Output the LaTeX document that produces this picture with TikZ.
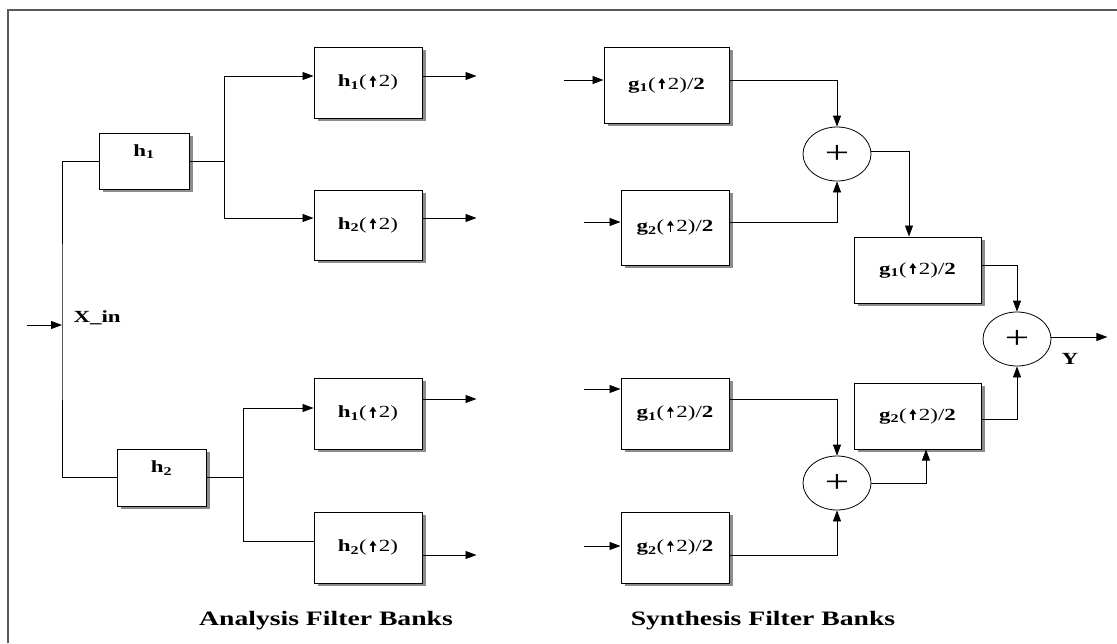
\documentclass[tikz,border=0pt]{standalone}
\usepackage{fontspec}
\setmainfont{Liberation Serif}[FakeStretch=1.35]
\usetikzlibrary{arrows.meta, shadows, shapes.geometric}
\newcommand{\uparr}{\,\tikz[baseline=0pt]\draw[line width=1.6pt, -{Triangle[length=5pt,width=6.5pt]}] (0pt,0pt) -- (0pt,11pt);\,}
\newcommand{\hlab}[1]{\textbf{h}\textsubscript{\textbf{#1}}(\uparr2)}
\newcommand{\glab}[1]{\textbf{g}\textsubscript{\textbf{#1}}(\uparr2)/\textbf{2}}
\tikzset{
    filt/.style = {draw, line width=1pt, fill=white, inner sep=0pt,
        font=\fontsize{17}{19}\selectfont,
        drop shadow={shadow xshift=4pt, shadow yshift=-3pt, fill=black!45, opacity=1}},
    uptext/.style = {text height=12pt, text depth=22pt},
    adder/.style = {draw, ellipse, line width=0.8pt, minimum width=68pt,
        minimum height=54pt, inner sep=0pt, font=\fontsize{32}{32}\selectfont},
    wire/.style = {line width=0.8pt},
    sig/.style = {wire, -{Triangle[length=11pt,width=8pt]}},
    caption/.style = {font=\fontsize{20.5}{22}\selectfont\bfseries}
}
\begin{document}
\begin{tikzpicture}[x=1pt,y=-1pt]
\useasboundingbox (0,0) rectangle (1117,643);
\fill[white] (0,0) rectangle (1117,643);
\draw[line width=1.5pt, black!65] (8,643) -- (8,10) -- (1117,10);

% analysis side
\node[filt, uptext, minimum width=90pt, minimum height=56pt] (h1) at (144,161) {\textbf{h}\textsubscript{\textbf{1}}};
\node[filt, uptext, minimum width=89pt, minimum height=57pt] (h2) at (161.5,477.5) {\textbf{h}\textsubscript{\textbf{2}}};
\node[filt, minimum width=108pt, minimum height=71pt] (a11) at (368,82.5) {\hlab{1}};
\node[filt, minimum width=108pt, minimum height=70pt] (a12) at (368,225) {\hlab{2}};
\node[filt, minimum width=108pt, minimum height=71pt] (a21) at (368,413.5) {\hlab{1}};
\node[filt, minimum width=108pt, minimum height=71pt] (a22) at (368,547.5) {\hlab{2}};

\coordinate (src) at (27,325);
\coordinate (xin) at (62,325);
\node[anchor=west, font=\fontsize{17}{19}\selectfont\bfseries] (xlab) at (70,318) {X\_in};
\draw[sig] (src) -- (xin);
\draw[wire] (h1.west) -| (xin) |- (h2.west);

\coordinate (b1) at ([xshift=35pt]h1.east);
\draw[wire] (h1.east) -- (b1);
\draw[sig] (b1) |- ([yshift=6.5pt]a11.west);
\draw[sig] (b1) |- ([yshift=7pt]a12.west);
\coordinate (b2) at ([xshift=37pt]h2.east);
\draw[wire] (h2.east) -- (b2);
\draw[sig] (b2) |- ([yshift=5.5pt]a21.west);
\draw[wire] (b2) |- ([yshift=6.5pt]a22.west);

\draw[sig] ([yshift=6.5pt]a11.east) -- ++(54,0) coordinate (o11);
\draw[sig] ([yshift=7pt]a12.east) -- ++(54,0) coordinate (o12);
\draw[sig] ([yshift=14.5pt]a21.east) -- ++(54,0) coordinate (o21);
\draw[sig] ([yshift=-7.5pt]a22.east) -- ++(54,0) coordinate (o22);

% synthesis side
\node[filt, minimum width=125pt, minimum height=76pt] (s11) at (666.5,85) {\glab{1}};
\node[filt, minimum width=108pt, minimum height=75pt] (s12) at (675,227.5) {\glab{2}};
\node[filt, minimum width=108pt, minimum height=71pt] (s21) at (675,413.5) {\glab{1}};
\node[filt, minimum width=108pt, minimum height=71pt] (s22) at (675,547.5) {\glab{2}};
\node[filt, minimum width=127pt, minimum height=66pt] (m1) at (917.5,270) {\glab{1}};
\node[filt, minimum width=127pt, minimum height=66pt] (m2) at (917.5,416) {\glab{2}};
\node[adder] (sum1) at (837,154) {+};
\node[adder] (sum2) at (1017,339) {+};
\node[adder] (sum3) at (837,483) {+};

\draw[sig] ([xshift=-40pt,yshift=5pt]s11.west) coordinate (i11) -- ([yshift=5pt]s11.west);
\draw[sig] ([xshift=-37pt,yshift=5.5pt]s12.west) coordinate (i12) -- ([yshift=5.5pt]s12.west);
\draw[sig] ([xshift=-37pt,yshift=24.5pt]s21.west) coordinate (i21) -- ([yshift=24.5pt]s21.west);
\draw[sig] ([xshift=-37pt,yshift=1.5pt]s22.west) coordinate (i22) -- ([yshift=1.5pt]s22.west);

\draw[sig] ([yshift=5pt]s11.east) -| (sum1.north);
\draw[sig] ([yshift=5.5pt]s12.east) -| (sum1.south);
\draw[sig] ([yshift=3pt]sum1.east) -| ([xshift=-8.5pt]m1.north);
\draw[sig] ([yshift=14.5pt]s21.east) -| (sum3.north);
\draw[sig] ([yshift=-7.5pt]s22.east) -| (sum3.south);
\draw[sig] (sum3.east) -| ([xshift=8.5pt]m2.south);
\draw[sig] ([yshift=5pt]m1.east) -| (sum2.north);
\draw[sig] ([yshift=-3pt]m2.east) -| (sum2.south);
\draw[sig] ([yshift=2pt]sum2.east) -- ++(56,0) coordinate (yout);
\node[font=\fontsize{17}{19}\selectfont\bfseries] (ylab) at (1070,359) {Y};

\node[caption] (cap1) at (326,621) {Analysis Filter Banks};
\node[caption] (cap2) at (763,621) {Synthesis Filter Banks};
\end{tikzpicture}
\end{document}
